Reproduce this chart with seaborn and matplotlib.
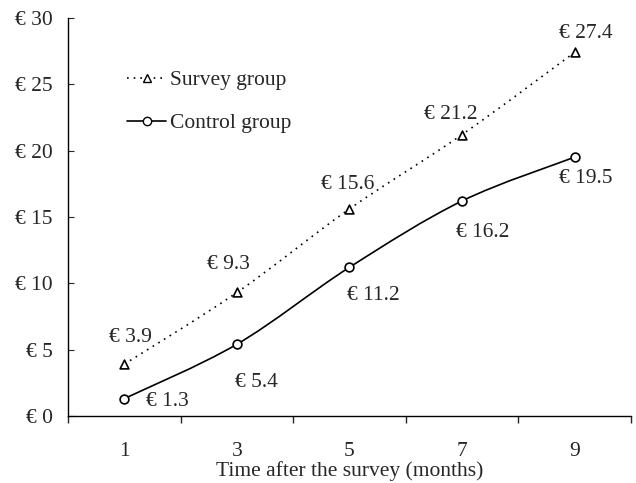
import numpy as np
import pandas as pd
import seaborn as sns
import matplotlib.pyplot as plt
from matplotlib.path import Path
from matplotlib.patches import PathPatch
from matplotlib.lines import Line2D

months = ['1', '3', '5', '7', '9']
survey = [3.9, 9.3, 15.6, 21.2, 27.4]
control = [1.3, 5.4, 11.2, 16.2, 19.5]

df = pd.DataFrame({'pos': range(len(months)), 'month': months,
                   'survey': survey, 'control': control})

sns.set_style('ticks')
plt.rcParams['font.family'] = ['Liberation Serif', 'DejaVu Serif']
FS = 15.5


def smooth_patch(xs, ys, **kw):
    # excel style smoothed line: catmull-rom turned into bezier segments
    pts = np.column_stack([xs, ys]).astype(float)
    n = len(pts)
    verts = [pts[0]]
    codes = [Path.MOVETO]
    for i in range(n - 1):
        p0 = pts[max(i - 1, 0)]
        p1 = pts[i]
        p2 = pts[i + 1]
        p3 = pts[min(i + 2, n - 1)]
        verts += [p1 + (p2 - p0) / 6, p2 - (p3 - p1) / 6, p2]
        codes += [Path.CURVE4] * 3
    return PathPatch(Path(verts, codes), fill=False, **kw)


fig = plt.figure(figsize=(6.36, 4.83), dpi=100)
ax = fig.add_axes([0.107, 0.139, 0.885, 0.824])

ax.add_patch(smooth_patch(df['pos'], df['survey'], edgecolor='black',
                          lw=1.2, linestyle=(0, (1, 3))))
ax.add_patch(smooth_patch(df['pos'], df['control'], edgecolor='black', lw=1.2))

sns.scatterplot(data=df, x='pos', y='survey', marker='^', s=40,
                facecolor='white', edgecolor='black', linewidth=1.2, ax=ax, zorder=3)
sns.scatterplot(data=df, x='pos', y='control', marker='o', s=40,
                facecolor='white', edgecolor='black', linewidth=1.2, ax=ax, zorder=3)

# label offsets in pixels
s_off = [(6, 27), (-8, 28), (-2, 24), (-11, 20), (11, 19)]
c_off = [(43, -3), (20, -38), (24, -28), (21, -32), (11, -21)]
for i in range(len(months)):
    ax.annotate(f'€ {survey[i]}', (i, survey[i]), xytext=s_off[i],
                textcoords='offset pixels', ha='center', va='center', fontsize=FS)
    ax.annotate(f'€ {control[i]}', (i, control[i]), xytext=c_off[i],
                textcoords='offset pixels', ha='center', va='center', fontsize=FS)

ax.set_xlim(-0.5, 4.5)
ax.set_ylim(0, 30)
ax.set_xticks(range(len(months)), months)
ax.set_xticks(np.arange(-0.5, 5, 1), minor=True)
ax.tick_params(axis='x', which='major', length=0, pad=19, labelsize=FS)
ax.tick_params(axis='x', which='minor', length=5, direction='out', width=1)
ax.set_yticks(range(0, 31, 5), [f'€ {v}' for v in range(0, 31, 5)])
ax.tick_params(axis='y', length=4, direction='in', pad=11, labelsize=FS)
ax.set_xlabel('Time after the survey (months)', fontsize=FS, labelpad=0)
ax.set_ylabel('')
sns.despine(ax=ax)
for sp in ['left', 'bottom']:
    ax.spines[sp].set_linewidth(1)
    ax.spines[sp].set_color('black')

handles = [
    Line2D([], [], color='black', lw=1.2, linestyle=(0, (1, 3)), marker='^',
           markersize=6, markerfacecolor='white', markeredgecolor='black'),
    Line2D([], [], color='black', lw=1.2, marker='o', markersize=6,
           markerfacecolor='white', markeredgecolor='black'),
]
ax.legend(handles, ['Survey group', 'Control group'], loc='upper left',
          bbox_to_anchor=(0.085, 0.895), frameon=False, fontsize=FS,
          handlelength=1.85, handletextpad=0.15, labelspacing=1.05, borderpad=0)

fig.savefig('out.png', dpi=100)
